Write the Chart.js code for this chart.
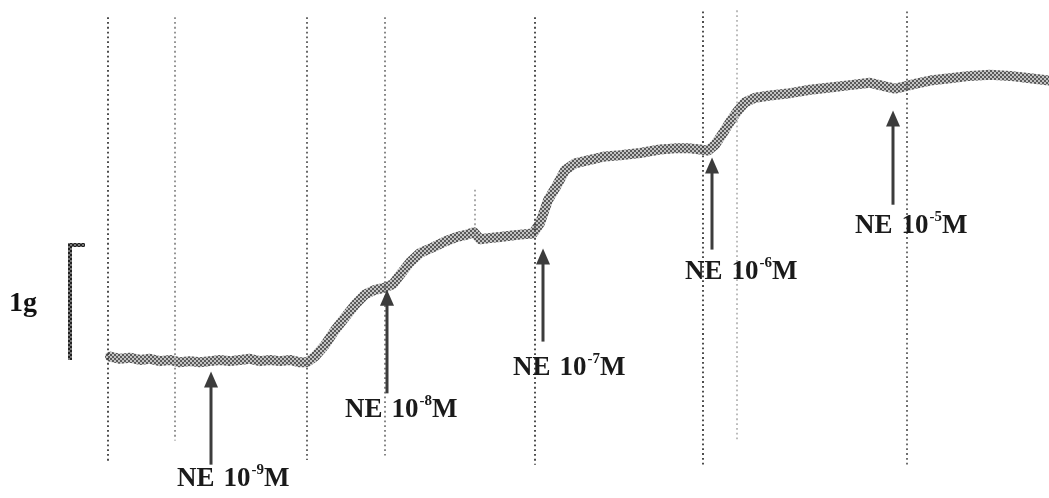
<!DOCTYPE html>
<html>
<head>
<meta charset="utf-8">
<script src="https://cdn.jsdelivr.net/npm/chart.js@4/dist/chart.umd.min.js"></script>
<style>
  html, body { margin: 0; padding: 0; background: #ffffff; }
  #wrap { width: 1049px; height: 498px; position: relative; }
</style>
</head>
<body>
<div id="wrap"><canvas id="c"></canvas></div>
<script>
// ---- Data (time in recording units, tension in grams) ----
const traceTime = [110,120,130,140,150,160,170,180,190,200,210,220,230,240,250,260,270,280,290,300,307,
  315,325,335,345,355,365,375,385,393,400,410,420,433,445,457,467,474,480,490,500,510,520,533,
  540,548,557,565,575,590,605,620,640,660,675,690,700,708,715,722,730,738,745,755,770,790,810,
  830,850,870,885,895,905,915,930,950,970,990,1010,1030,1049];
const traceTension = [0.03,0.01,0.02,0.00,0.01,-0.01,0.00,-0.02,-0.01,-0.02,-0.01,0.00,-0.01,0.00,0.01,-0.01,0.00,-0.01,0.00,-0.02,-0.02,
  0.03,0.13,0.26,0.37,0.48,0.57,0.61,0.63,0.66,0.74,0.85,0.93,0.98,1.03,1.07,1.09,1.11,1.05,1.06,1.07,1.08,1.09,1.10,
  1.19,1.39,1.52,1.65,1.71,1.74,1.77,1.78,1.80,1.83,1.84,1.84,1.83,1.82,1.87,1.96,2.07,2.17,2.24,2.28,2.30,2.32,2.35,
  2.37,2.39,2.41,2.38,2.36,2.38,2.40,2.43,2.45,2.47,2.48,2.47,2.45,2.43];

// Drug additions (norepinephrine)
const doseExponents = ["-9","-8","-7","-6","-5"];
const doseTime      = [211, 387, 543, 712, 893];
const arrowTip      = [-0.10, 0.61, 0.97, 1.76, 2.17];
const arrowTail     = [-0.91, -0.29, 0.16, 0.96, 1.35];
const labelTime     = [177, 345, 513, 685, 855];
const labelLevel    = [-1.10, -0.50, -0.13, 0.70, 1.10];

// Time markers (dotted vertical lines)
const markerTime   = [108, 175, 307, 385, 475, 535, 703, 737, 907];
const markerTop    = [2.98, 2.98, 2.98, 2.98, 1.48, 2.98, 3.03, 3.04, 3.03];
const markerBottom = [-0.89, -0.70, -0.87, -0.83, 1.09, -0.91, -0.91, -0.70, -0.91];
const markerShade  = ['#3a3a3a','#8a8a8a','#5a5a5a','#7a7a7a','#a0a0a0','#3a3a3a','#3a3a3a','#b5b5b5','#606060'];

// Calibration bar
const calibTime = 70;
const calibGrams = [0, 1];
const calibLabel = "1g";

// ---- Halftone pattern for the pen trace ----
function makePattern(bg, fg) {
  const p = document.createElement('canvas');
  p.width = 4; p.height = 4;
  const g = p.getContext('2d');
  g.fillStyle = bg; g.fillRect(0,0,4,4);
  g.fillStyle = fg;
  g.fillRect(0,0,2,2); g.fillRect(2,2,2,2);
  return g.createPattern(p, 'repeat');
}
const tracePattern = makePattern('#c4c4c4', '#5a5a5a');
const barPattern = makePattern('#777777', '#222222');

const overlay = {
  id: 'overlay',
  afterDatasetsDraw(chart) {
    const ctx = chart.ctx, xs = chart.scales.x, ys = chart.scales.y;
    ctx.save();
    // dotted vertical markers
    ctx.lineWidth = 1.8;
    ctx.setLineDash([1.8, 3]);
    markerTime.forEach((t, i) => {
      const x = xs.getPixelForValue(t);
      ctx.strokeStyle = markerShade[i];
      ctx.beginPath();
      ctx.moveTo(x, ys.getPixelForValue(markerTop[i]));
      ctx.lineTo(x, ys.getPixelForValue(markerBottom[i]));
      ctx.stroke();
    });
    ctx.setLineDash([]);
    // calibration bar
    const cx = xs.getPixelForValue(calibTime);
    const cy0 = ys.getPixelForValue(calibGrams[0]);
    const cy1 = ys.getPixelForValue(calibGrams[1]);
    ctx.strokeStyle = barPattern;
    ctx.lineWidth = 4;
    ctx.beginPath();
    ctx.moveTo(cx, cy0); ctx.lineTo(cx, cy1); ctx.lineTo(cx + 15, cy1);
    ctx.stroke();
    ctx.fillStyle = '#111';
    ctx.font = 'bold 28px "Liberation Serif", "DejaVu Serif", serif';
    ctx.textBaseline = 'alphabetic';
    ctx.textAlign = 'left';
    ctx.fillText(calibLabel, 9, (cy0 + cy1) / 2 + 9);
    // arrows
    doseTime.forEach((t, i) => {
      const x = xs.getPixelForValue(t);
      const yt = ys.getPixelForValue(arrowTip[i]);
      const yb = ys.getPixelForValue(arrowTail[i]);
      ctx.strokeStyle = '#3c3c3c';
      ctx.lineWidth = 3;
      ctx.beginPath();
      ctx.moveTo(x, yt + 10); ctx.lineTo(x, yb);
      ctx.stroke();
      ctx.fillStyle = '#3c3c3c';
      ctx.beginPath();
      ctx.moveTo(x, yt);
      ctx.lineTo(x - 7, yt + 16);
      ctx.lineTo(x + 7, yt + 16);
      ctx.closePath();
      ctx.fill();
    });
    // labels
    const big = 'bold 27px "Liberation Serif", "DejaVu Serif", serif';
    const small = 'bold 15px "Liberation Serif", "DejaVu Serif", serif';
    ctx.fillStyle = '#1a1a1a';
    doseExponents.forEach((ex, i) => {
      let x = xs.getPixelForValue(labelTime[i]);
      const y = ys.getPixelForValue(labelLevel[i]);
      ctx.font = big;
      ctx.fillText('NE', x, y);
      x += ctx.measureText('NE').width + 9;
      ctx.fillText('10', x, y);
      x += ctx.measureText('10').width + 1;
      ctx.font = small;
      ctx.fillText(ex, x, y - 12);
      x += ctx.measureText(ex).width;
      ctx.font = big;
      ctx.fillText('M', x, y);
    });
    ctx.restore();
  }
};

new Chart(document.getElementById('c'), {
  type: 'line',
  data: {
    datasets: [{
      data: traceTime.map((t, i) => ({ x: t, y: traceTension[i] })),
      borderColor: tracePattern,
      borderWidth: 10,
      pointRadius: 0,
      tension: 0,
      borderJoinStyle: 'round',
      borderCapStyle: 'round',
      fill: false
    }]
  },
  options: {
    responsive: true,
    maintainAspectRatio: false,
    animation: false,
    layout: { padding: 0 },
    plugins: { legend: { display: false }, tooltip: { enabled: false } },
    scales: {
      x: { type: 'linear', display: false, min: 0, max: 1049 },
      y: { type: 'linear', display: false, min: -1.2, max: 3.13 }
    }
  },
  plugins: [overlay]
});
</script>
</body>
</html>
